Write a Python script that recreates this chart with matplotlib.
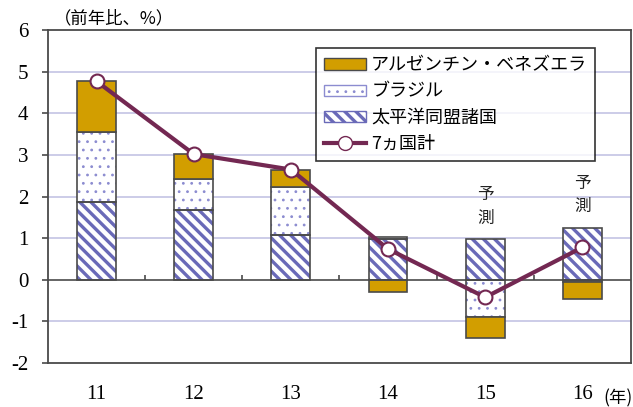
import numpy as np
import matplotlib.pyplot as plt
from matplotlib.patches import Patch
from matplotlib.lines import Line2D

plt.rcParams['font.family'] = ['Liberation Serif', 'Noto Sans CJK JP']
plt.rcParams['axes.unicode_minus'] = False

# データ（前年比、%）
years = ['11', '12', '13', '14', '15', '16']
pacific = [1.88, 1.68, 1.08, 0.99, 0.98, 1.25]       # 太平洋同盟諸国
brazil = [1.67, 0.74, 1.14, 0.03, -0.90, -0.05]      # ブラジル
argven = [1.22, 0.60, 0.42, -0.30, -0.50, -0.41]     # アルゼンチン・ベネズエラ
total = [4.77, 3.02, 2.65, 0.74, -0.42, 0.78]        # 7ヵ国計
forecast = ['15', '16']

c_gold = '#D29E00'
c_hatch = '#6A6AB8'
c_dot = '#8C8CD0'
c_edge = '#4A4A4A'
c_line = '#732852'

fig = plt.figure(figsize=(6.33, 4.07), dpi=100)
ax = fig.add_axes([0.0758, 0.108, 0.921, 0.818])

x = np.arange(len(years))
w = 0.4
pacific = np.array(pacific)
brazil = np.array(brazil)
argven = np.array(argven)

# 積み上げの基点（正負別）
def stack(vals_list):
    pos = np.zeros(len(x))
    neg = np.zeros(len(x))
    out = []
    for v in vals_list:
        base = np.where(v >= 0, pos, neg)
        out.append(base.copy())
        pos = pos + np.where(v >= 0, v, 0)
        neg = neg + np.where(v < 0, v, 0)
    return out

b_pac, b_bra, b_arg = stack([pacific, brazil, argven])

ax.set_axisbelow(True)
for yy in range(-1, 6):
    if yy != 0:
        ax.axhline(yy, color='#C4C4E4', lw=1.2, zorder=0)

# 太平洋同盟
plt.rcParams['hatch.linewidth'] = 2.4
ax.bar(x, pacific, w, bottom=b_pac, color='white', edgecolor=c_hatch, hatch='\\\\\\', lw=0, zorder=2)
ax.bar(x, pacific, w, bottom=b_pac, fill=False, edgecolor=c_edge, lw=1.2, zorder=3)
h_pac = Patch(facecolor='white', edgecolor=c_hatch, hatch='\\\\\\', label='太平洋同盟諸国')
# ブラジル
plt.rcParams['hatch.linewidth'] = 0.8
ax.bar(x, brazil, w, bottom=b_bra, color='white', edgecolor=c_dot, hatch='..', lw=0, zorder=2)
ax.bar(x, brazil, w, bottom=b_bra, fill=False, edgecolor=c_edge, lw=1.2, zorder=3)
h_bra = Patch(facecolor='white', edgecolor=c_dot, hatch='..', label='ブラジル')
# アルゼンチン・ベネズエラ
ax.bar(x, argven, w, bottom=b_arg, color=c_gold, edgecolor=c_edge, lw=1.2, zorder=3)
h_arg = Patch(facecolor=c_gold, edgecolor=c_edge, label='アルゼンチン・ベネズエラ')

ax.axhline(0, color=c_edge, lw=1.2, zorder=4)
ax.vlines(x[:-1] + 0.5, 0, 0.12, color=c_edge, lw=1.2, zorder=4)

ax.plot(x, total, color=c_line, lw=3, marker='o', ms=10, mfc='white', mec=c_line, mew=1.5, zorder=5)
h_tot = Line2D([], [], color=c_line, lw=3, marker='o', ms=10, mfc='white', mec=c_line, label='7ヵ国計')

for yr in forecast:
    i = years.index(yr)
    top = max(pacific[i] + max(brazil[i], 0), 0)
    ax.text(x[i], top + 0.3, '予\n測', ha='center', va='bottom', fontsize=12,
            family=['Noto Sans CJK JP'], linespacing=1.5, color='#222222')

ax.set_xlim(-0.5, len(years) - 0.5)
ax.set_ylim(-2, 6)
ax.set_yticks(range(-2, 7))
ax.set_xticks(x)
ax.set_xticklabels(years)
ax.tick_params(axis='y', labelsize=15, length=4, width=1.2, color=c_edge, direction='out', pad=10)
ax.tick_params(axis='x', labelsize=15, length=0, pad=16)
for lab in ax.get_xticklabels() + ax.get_yticklabels():
    lab.set_fontfamily('Liberation Serif')
for s in ax.spines.values():
    s.set_color(c_edge)
    s.set_linewidth(1.3)

fig.text(0.085, 0.955, '（前年比、%）', fontsize=12.5, ha='left', va='center', family=['Noto Sans CJK JP'])
fig.text(0.999, 0.022, '(年)', fontsize=12.5, ha='right', va='center', family=['Noto Sans CJK JP'])

leg = ax.legend(handles=[h_arg, h_bra, h_pac, h_tot], loc='upper left', bbox_to_anchor=(0.46, 0.945),
                prop={'family': ['Noto Sans CJK JP'], 'size': 13}, frameon=True, fancybox=False,
                edgecolor='black', handlelength=2.3, handleheight=0.6, handletextpad=0.3,
                labelspacing=0.45, borderpad=0.45, borderaxespad=0)
leg.get_frame().set_linewidth(1.2)
for p in leg.get_patches():
    p.set_linewidth(1.0)
# 凡例の斜線を太く
p_pac = leg.get_patches()[2]
if hasattr(p_pac, 'set_hatch_linewidth'):
    p_pac.set_hatch_linewidth(2.4)
else:
    p_pac._hatch_linewidth = 2.4

fig.savefig('out.png', dpi=100)
